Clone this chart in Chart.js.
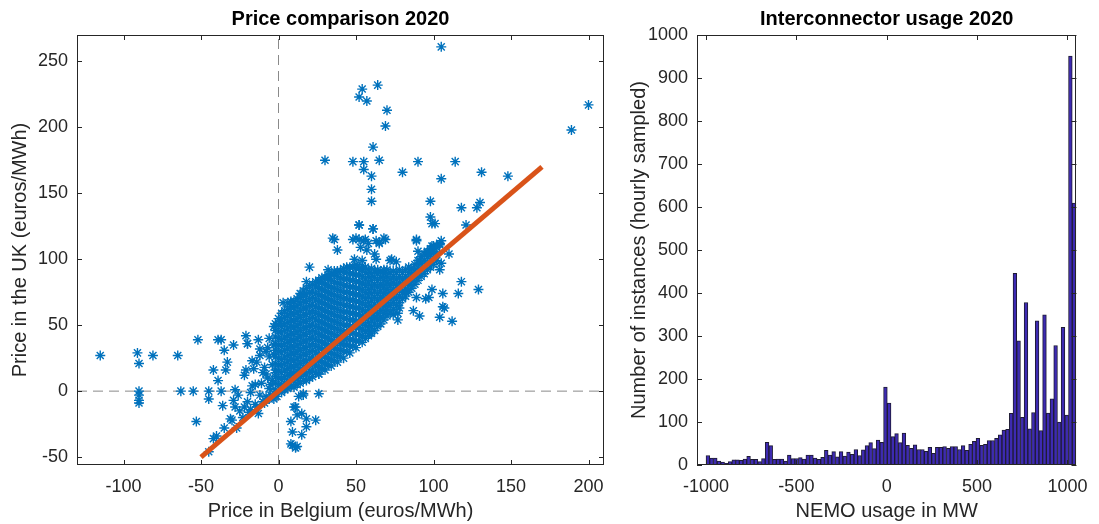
<!DOCTYPE html>
<html>
<head>
<meta charset="utf-8">
<title>NEMO link 2020</title>
<script src="https://cdn.jsdelivr.net/npm/chart.js@4.4.0/dist/chart.umd.min.js"></script>
<style>
  body { margin: 0; background: #fff; }
  #wrap { position: relative; width: 1099px; height: 524px; }
  canvas { position: absolute; top: 0; }
  #priceChart { left: 0; }
  #usageChart { left: 620px; }
</style>
</head>
<body>
<div id="wrap">
  <canvas id="priceChart" width="620" height="524"></canvas>
  <canvas id="usageChart" width="479" height="524"></canvas>
</div>
<script>
// hourly prices, [Belgium, UK] in euros/MWh
var spikeHours = [
  [105,261],[54,229],[64,232],[52,223],[57,220],[70,213],[69,201],[200,217],[189,198],[61,185],
  [30,175],[48,174],[55,174],[65,175],[90,174],[114,174],[55,168],[60,163],[80,166],[105,161],
  [131,166],[148,163],[60,153],[60,144],[98,144],[118,139],[130,143],[128,139],[98,132],[101,127],
  [121,126],[52,126],[61,123],[36,115],[89,115],[38,107],[105,114],[110,104],
  [48,115],[52,115],[56,115],[58,112],[53,109],[63,114],[65,112],[69,115],[57,107],[62,104],
  [49,100],[54,99],[63,100],[73,100],[90,106],[96,105],[99,107],[102,109],[104,112],[91,99],
  [35,116],[50,116],[55,114],[65,113],[68,116],[72,99],[76,98],[89,114],[99,127],[104,111],
  [105,97],[99,110],[20,94],[18,83],[32,92],[32,88],[26,84],[104,92],[52,126],[61,123]
];
var cheapUKHours = [
  [99,77],[106,74],[106,64],[82,75],[89,71],[95,70],[74,58],[78,63],[87,61],[59,44],
  [63,56],[41,40],[26,13],[129,77],[116,74],[97,71],[107,63],[118,83],[91,57],[77,59],
  [77,54],[112,53],[104,56]
];
var lowPriceHours = [
  [-115,27],[-91,29],[-90,21],[-81,27],[-65,27],[-52,39],[-39,39],[-37,39],[-29,35],[-20,36],
  [-35,31],[-33,22],[-34,16],[-42,16],[-21,16],[-16,17],[-12,32],[-90,0],[-90,-3],[-90,-7],
  [-90,-9],[-63,0],[-55,0],[-45,0],[-45,-6],[-37,0],[-28,1],[-26,-3],[-36,-11],[-29,-7],
  [-28,-12],[-31,-21],[-22,-12],[-17,4],[-18,-1],[-13,-17],[-53,-23],[-40,-34],[-45,-46],[-27,-28],
  [-39,8],[-22,12],[-8,13],[10,-12],[12,-18],[18,-21],[8,-23],[9,-31],[15,-33],[9,-41],
  [12,-42],[18,-27],[24,-22],[13,-4],[16,-3],[26,-2],[16,-2],[11,-12],[15,-17],[8,-40],
  [11,-43],[-20,-8],[-15,-10],[-10,-8],[-8,-4],[-5,-3],[-12,-3],[-25,-15],[-30,-22],[-35,-28],
  [-42,-36],[-18,-14],[-5,5],[-7,10],[-10,14],[-4,20],[-6,26],[-8,30],[-3,35],[-6,40],
  [-14,22],[-11,6],[-3,-6],[-1,-4],[-6,2],[-4,8],[-9,18],[-2,14],[-3,28],[-7,33],
  [-12,27],[-15,5],[-23,-20],[-19,-16],[-14,-12],[-9,-9],[-6,-6],[-21,42],[-13,39],[-17,23],
  [-20,36],[3,67],[1,53],[-3,49]
];
// main cloud: one Belgian price per column, UK prices seen at it
var cloudBelgium = [
  -2, 0, 2, 4, 6, 8, 10, 12, 14, 16, 18, 20, 22, 24, 26, 28, 30, 32, 34, 36, 38, 40, 42, 44, 46, 48,
  50, 52, 54, 56, 58, 60, 62, 64, 66, 68, 70, 72, 74, 76, 78, 80, 82, 84, 86, 88, 90, 92, 94, 96, 98, 100, 102
];
var cloudUK = [
  [1,6,11,16,21,26,31,36,41,46,51],
  [0,5,10,15,20,25,30,35,40,45,50,55],
  [-1,4,9,14,19,24,29,34,39,44,49,54,59],
  [1,6,11,16,21,26,31,36,41,46,51,56,61],
  [2,7,12,17,22,27,32,37,42,47,52,57,62,67],
  [4,9,14,19,24,29,34,39,44,49,54,59,64,68],
  [3,8,13,18,23,28,33,38,43,48,53,58,63,68],
  [5,10,15,20,25,30,35,40,45,50,55,60,65,70],
  [6,11,16,21,26,31,36,41,46,51,56,61,66,71,74],
  [8,13,18,23,28,33,38,43,48,53,58,63,68,73,76],
  [8,13,18,23,28,33,38,43,48,53,58,63,68,73,78],
  [10,15,20,25,30,35,40,45,50,55,60,65,70,75,80],
  [11,16,21,26,31,36,41,46,51,56,61,66,71,76,81],
  [14,19,24,29,34,39,44,49,54,59,64,69,74,79,83],
  [13,18,23,28,33,38,43,48,53,58,63,68,73,78,83],
  [17,22,27,32,37,42,47,52,57,62,67,72,77,82,86],
  [16,21,26,31,36,41,46,51,56,61,66,71,76,81,86],
  [20,25,30,35,40,45,50,55,60,65,70,75,80,85,88],
  [19,24,29,34,39,44,49,54,59,64,69,74,79,84,89],
  [23,28,33,38,43,48,53,58,63,68,73,78,83,88,91],
  [22,27,32,37,42,47,52,57,62,67,72,77,82,87,91],
  [26,31,36,41,46,51,56,61,66,71,76,81,86,91],
  [25,30,35,40,45,50,55,60,65,70,75,80,85,90,93],
  [30,35,40,45,50,55,60,65,70,75,80,85,90,94],
  [29,34,39,44,49,54,59,64,69,74,79,84,89,94],
  [34,39,44,49,54,59,64,69,74,79,84,89,94],
  [33,38,43,48,53,58,63,68,73,78,83,88,93,96],
  [38,43,48,53,58,63,68,73,78,83,88,93],
  [37,42,47,52,57,62,67,72,77,82,87,92,95],
  [40,45,50,55,60,65,70,75,80,85,90,94],
  [42,47,52,57,62,67,72,77,82,87,92],
  [44,49,54,59,64,69,74,79,84,89,93],
  [46,51,56,61,66,71,76,81,86,91],
  [49,54,59,64,69,74,79,84,89,92],
  [51,56,61,66,71,76,81,86,91],
  [54,59,64,69,74,79,84,89,92],
  [57,62,67,72,77,82,87,92],
  [60,65,70,75,80,85,90],
  [62,67,72,77,82,87,91],
  [65,70,75,80,85,90],
  [67,72,77,82,87,92],
  [70,75,80,85,90],
  [72,77,82,87,92],
  [75,80,85,90,94],
  [78,83,88,93],
  [81,86,91,96],
  [84,89,94,99],
  [87,92,97,102],
  [89,94,99,104],
  [92,97,102,106],
  [94,99,104,108],
  [96,101,106,110],
  [99,104,110]
];
// y = x reference, end points
var fitBelgium = [-50, 170];
var fitUK = [-50, 170];
var priceTicksX = [-100, -50, 0, 50, 100, 150, 200];
var priceTicksY = [-50, 0, 50, 100, 150, 200, 250];

// NEMO flow histogram, 100 bins from -1000 MW
var usageBinStart = -1000;
var usageBinWidth = 20.47;
var usageCounts = [
  22,16,16,9,7,4,8,12,12,11,
  14,20,13,13,8,15,53,45,13,14,
  14,9,23,15,15,17,14,23,23,16,
  13,18,34,23,31,19,31,21,30,25,
  36,22,35,45,52,38,58,53,181,144,
  66,73,52,74,46,39,47,36,36,32,
  41,27,41,41,43,39,43,43,36,45,
  34,48,55,62,46,48,57,57,62,70,
  81,83,120,446,289,111,378,84,122,335,
  80,349,121,154,278,100,320,116,951,609
];
var usageTicksX = [-1000, -500, 0, 500, 1000];
var usageTicksY = [0, 100, 200, 300, 400, 500, 600, 700, 800, 900, 1000];

var FONT = 'Liberation Sans, Arial, Helvetica, sans-serif';
var AXIS_COLOR = '#262626';

// box round the axes with inward ticks on all four sides
var frameTicks = {
  id: 'frameTicks',
  afterDatasetsDraw(chart) {
    var ctx = chart.ctx, a = chart.chartArea, sx = chart.scales.x, sy = chart.scales.y;
    var len = 5;
    ctx.save();
    ctx.strokeStyle = AXIS_COLOR;
    ctx.lineWidth = 1;
    ctx.beginPath();
    sx.ticks.forEach(function (t) {
      var px = Math.round(sx.getPixelForValue(t.value)) + 0.5;
      ctx.moveTo(px, a.bottom); ctx.lineTo(px, a.bottom - len);
      ctx.moveTo(px, a.top); ctx.lineTo(px, a.top + len);
    });
    sy.ticks.forEach(function (t) {
      var py = Math.round(sy.getPixelForValue(t.value)) + 0.5;
      ctx.moveTo(a.left, py); ctx.lineTo(a.left + len, py);
      ctx.moveTo(a.right, py); ctx.lineTo(a.right - len, py);
    });
    ctx.stroke();
    ctx.strokeRect(Math.round(a.left) + 0.5, Math.round(a.top) + 0.5,
                   Math.round(a.width) - 1, Math.round(a.height) - 1);
    ctx.restore();
  }
};

function pairs(list) {
  return list.map(function (p) { return {x: p[0], y: p[1]}; });
}

// linear axis with a fixed tick list and MATLAB-like labels
function axis(min, max, tickValues, label, side, titlePad, tickPad) {
  return {
    type: 'linear', min: min, max: max, offset: false,
    grid: {display: false, drawTicks: false},
    border: {display: false},
    ticks: {
      font: {family: FONT, size: 18}, color: AXIS_COLOR, padding: tickPad, maxRotation: 0,
      autoSkip: false,
      callback: function (v) { return String(v); }
    },
    afterBuildTicks: function (s) {
      s.ticks = tickValues.map(function (v) { return {value: v}; });
    },
    title: {display: true, text: label, color: AXIS_COLOR, font: {family: FONT, size: 20}, padding: titlePad},
    afterFit: side === 'x' ? function (s) { s.height = 59; } : function (s) { s.width = 77; }
  };
}

function titleOpts(text) {
  return {
    display: true, text: text, fullSize: false, color: '#000',
    font: {family: FONT, size: 20, weight: 'bold'},
    padding: {top: 7, bottom: 4}
  };
}

// ---- price scatter ----
var pricePoints = pairs(spikeHours).concat(pairs(cheapUKHours), pairs(lowPriceHours));
cloudBelgium.forEach(function (be, i) {
  cloudUK[i].forEach(function (uk) { pricePoints.push({x: be, y: uk}); });
});

var X_MIN = -130, X_MAX = 210, Y_MIN = -56, Y_MAX = 270;

new Chart(document.getElementById('priceChart'), {
  type: 'scatter',
  data: {
    datasets: [
      {
        data: fitBelgium.map(function (v, i) { return {x: v, y: fitUK[i]}; }),
        showLine: true, borderColor: '#D95319', borderWidth: 5, pointRadius: 0, order: 0
      },
      {
        data: pricePoints,
        pointStyle: 'star', pointRadius: 5, borderColor: '#0072BD', borderWidth: 1.4,
        backgroundColor: '#0072BD', order: 1
      },
      {
        data: [{x: 0, y: Y_MIN}, {x: 0, y: Y_MAX}],
        showLine: true, borderColor: '#8a8a8a', borderWidth: 1, borderDash: [10, 6], pointRadius: 0, order: 2
      },
      {
        data: [{x: X_MIN, y: 0}, {x: X_MAX, y: 0}],
        showLine: true, borderColor: '#8a8a8a', borderWidth: 1, borderDash: [10, 6], pointRadius: 0, order: 2
      }
    ]
  },
  options: {
    responsive: false,
    animation: false,
    events: [],
    layout: {padding: {left: 0, right: 16, top: 0, bottom: 0}},
    plugins: {
      legend: {display: false},
      tooltip: {enabled: false},
      title: titleOpts('Price comparison 2020')
    },
    scales: {
      x: axis(X_MIN, X_MAX, priceTicksX, 'Price in Belgium (euros/MWh)', 'x', {top: 0, bottom: 1}, 11),
      y: axis(Y_MIN, Y_MAX, priceTicksY, 'Price in the UK (euros/MWh)', 'y', {top: 8, bottom: 0}, 9)
    }
  },
  plugins: [frameTicks]
});

// ---- interconnector histogram ----
var usageBars = usageCounts.map(function (c, i) {
  return {x: usageBinStart + usageBinWidth * (i + 0.5), y: c};
});

new Chart(document.getElementById('usageChart'), {
  type: 'bar',
  data: {
    datasets: [{
      data: usageBars,
      backgroundColor: '#3d2ab2',
      borderColor: '#1e1b33',
      borderWidth: 1,
      barPercentage: 1,
      categoryPercentage: 1
    }]
  },
  options: {
    responsive: false,
    animation: false,
    events: [],
    layout: {padding: {left: 0, right: 16, top: 0, bottom: 0}},
    plugins: {
      legend: {display: false},
      tooltip: {enabled: false},
      title: titleOpts('Interconnector usage 2020')
    },
    scales: {
      x: axis(-1050, 1050, usageTicksX, 'NEMO usage in MW', 'x', {top: 0, bottom: 1}, 11),
      y: axis(0, 1000, usageTicksY, 'Number of instances (hourly sampled)', 'y', {top: 7, bottom: 0}, 9)
    }
  },
  plugins: [frameTicks]
});
</script>
</body>
</html>
